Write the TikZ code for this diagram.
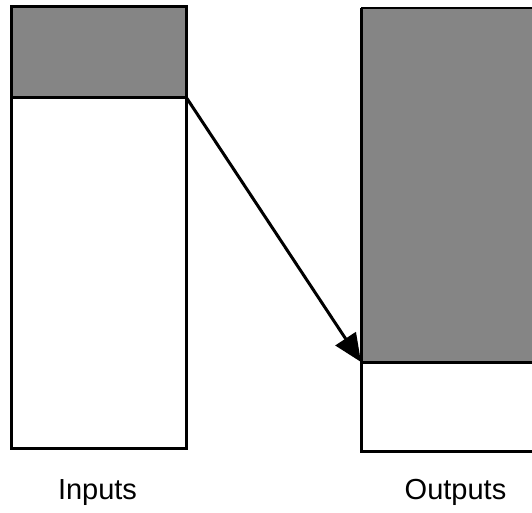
\documentclass[tikz,border=0pt]{standalone}
\usepackage{fontspec}
\setmainfont{Liberation Sans}
\usetikzlibrary{arrows.meta}
\definecolor{shade}{gray}{0.52}
\tikzset{
  box/.style={draw=black, line width=3pt, fill=white, rectangle, inner sep=0pt, outer sep=0pt, anchor=north west},
  darkpart/.style={draw=black, line width=3pt, fill=shade, rectangle, inner sep=0pt, outer sep=0pt, anchor=north west},
  edge/.style={line width=3pt},
  lbl/.style={font=\fontsize{29}{31}\selectfont, anchor=base, inner sep=0pt},
  flow/.style={line width=3pt, -{Triangle[length=28pt,width=24pt]}}
}
\begin{document}
\begin{tikzpicture}[x=1pt,y=-1pt]
\useasboundingbox (0,0) rectangle (532,512);
\clip (0,0) rectangle (532,512);
% left column
\node[box, minimum width=175pt, minimum height=442pt] (inbox) at (11,6) {};
\node[darkpart, minimum width=175pt, minimum height=91pt] (inhead) at (11,6) {};
% right column (extends past the right edge)
\node[box, draw=none, minimum width=200pt, minimum height=443pt] (outbox) at (361,8) {};
\node[darkpart, draw=none, minimum width=200pt, minimum height=354pt] (outhead) at (361,8) {};
\draw[line width=1.2pt] (outbox.north west) -- (outbox.north east);
\draw[edge] (outhead.south west) -- (outhead.south east);
\draw[edge] (outbox.south east) -- (outbox.south west) -- (outbox.north west);
% arrow
\draw[flow] (inhead.south east) -- (outhead.south west);
% labels
\node[lbl] (inlbl) at (97.5,499) {Inputs};
\node[lbl] (outlbl) at (455.5,499) {Outputs};
\end{tikzpicture}
\end{document}
